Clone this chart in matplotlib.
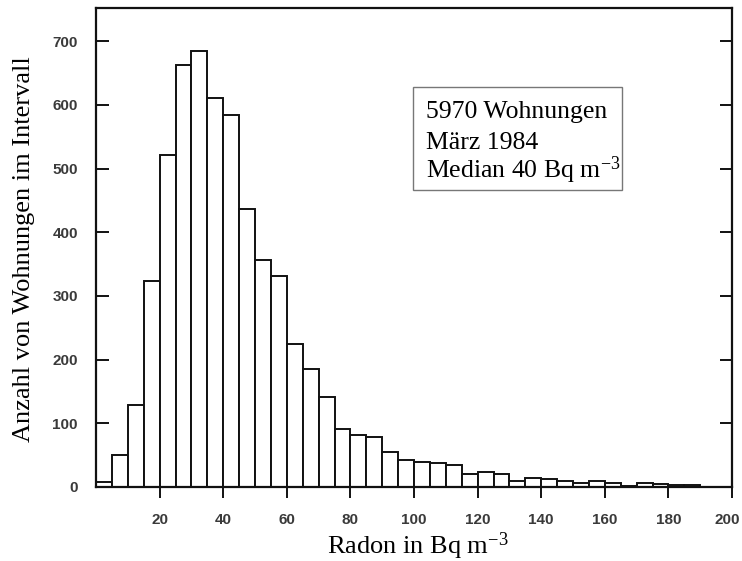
import numpy as np
import matplotlib
matplotlib.use("Agg")
import matplotlib.pyplot as plt
from matplotlib.patches import Rectangle
from matplotlib.transforms import ScaledTranslation

# Radon-Messungen: Anzahl Wohnungen je 5-Bq-Intervall
bin_edges = list(range(0, 195, 5))
counts = [8, 51, 128, 324, 522, 663, 685, 611, 584, 437,
          356, 331, 225, 185, 141, 91, 82, 79, 55, 43,
          40, 38, 35, 20, 24, 20, 9, 14, 12, 10,
          6, 10, 7, 2, 7, 5, 3, 3]
x_ticks = [20, 40, 60, 80, 100, 120, 140, 160, 180, 200]
y_ticks = [0, 100, 200, 300, 400, 500, 600, 700]
info_lines = ["5970 Wohnungen", "März 1984", r"Median 40 Bq m$\mathregular{^{-3}}$"]

serif = "Liberation Serif"
tick_color = "#3a3a3a"
W, H = 742, 561

fig = plt.figure(figsize=(W / 100, H / 100), dpi=100)
ax = fig.add_axes([96 / W, 1 - 487 / H, (732 - 96) / W, (487 - 8) / H])

lefts = np.array(bin_edges[:-1])
widths = np.diff(bin_edges)
ax.bar(lefts, counts, width=widths, align="edge", facecolor="white",
       edgecolor="#111111", linewidth=1.4)

ax.set_xlim(0, 200)
ax.set_ylim(0, 752)
ax.set_xticks(x_ticks)
ax.set_yticks(y_ticks)

for sp in ax.spines.values():
    sp.set_linewidth(1.6)
    sp.set_color("#111111")

ax.tick_params(axis="x", direction="out", length=8, width=1.4, pad=11,
               top=False, labelsize=11, labelcolor=tick_color, color="#111111")
ax.tick_params(axis="y", direction="in", length=9, width=1.4, pad=13,
               right=True, labelsize=11, labelcolor=tick_color, color="#111111")
for lab in ax.get_xticklabels() + ax.get_yticklabels():
    lab.set_fontfamily("Liberation Sans")
    lab.set_fontweight("bold")

# letzte Beschriftung am rechten Rand etwas nach links ruecken
last = ax.get_xticklabels()[-1]
last.set_transform(last.get_transform() + ScaledTranslation(-5 / 100, 0, fig.dpi_scale_trans))

# Achsentitel
fig.text(418 / W, 1 - 554 / H, r"Radon in Bq m$\mathregular{^{-3}}$",
         fontfamily=serif, fontsize=19, ha="center", va="baseline")
fig.text(24 / W, 1 - 249 / H, "Anzahl von Wohnungen im Intervall",
         fontfamily=serif, fontsize=19, rotation=90, ha="center", va="center")

# Infokasten
x0, x1 = (413 - 96) / 636, (622 - 96) / 636
y0, y1 = (487 - 190) / 479, (487 - 87) / 479
ax.add_patch(Rectangle((x0, y0), x1 - x0, y1 - y0, transform=ax.transAxes,
                       facecolor="white", edgecolor="#777777", linewidth=1.0,
                       zorder=5))
for line, base_px in zip(info_lines, [118, 149, 178]):
    ax.text((426 - 96) / 636, (487 - base_px) / 479, line, transform=ax.transAxes,
            fontfamily=serif, fontsize=18.5, ha="left", va="baseline", zorder=6)

fig.savefig("out.png", dpi=100)
